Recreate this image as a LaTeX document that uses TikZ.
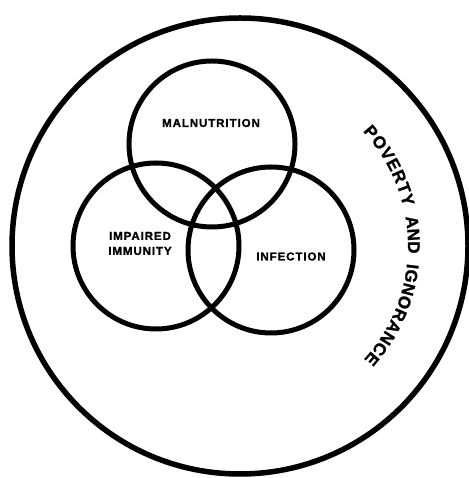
\documentclass[tikz,border=0pt]{standalone}
\usepackage{fontspec}
\setmainfont{Liberation Sans}[LetterSpace=8,BoldFeatures={FakeBold=1.2}]
\usepackage{tikz}
\usetikzlibrary{decorations.text}

\begin{document}
\begin{tikzpicture}[x=1pt,y=1pt,line width=5pt]
  \tikzset{cause/.style={font=\bfseries\fontsize{11.5}{15}\selectfont,align=center}}
  \useasboundingbox (0,0) rectangle (468,478);
  % outer ring
  \draw[line width=5.5pt] (240,232) circle (228pt);
  % the three overlapping causes
  \foreach \x/\y in {212/334,156/232,271/228}{
    \draw (\x,\y) circle (83pt);
  }
  % labels
  \node[cause] (maln) at (211,355) {MALNUTRITION};
  \node[cause] (immun) at (140,234.5) {IMPAIRED\\IMMUNITY};
  \node[cause] (infect) at (291,221.5) {INFECTION};
  % text round the inside of the ring, one word at a time
  \foreach \word/\a/\b in {POVERTY/43/13.5,AND/10/-2.5,IGNORANCE/-6/-42.5}{
    \path[decorate,decoration={text along path,text align={fit to path},
      text={|\bfseries\fontsize{17}{17}\selectfont|\word}}]
      ([shift={(\a:168pt)}]240,232) arc (\a:\b:168pt);
  }
\end{tikzpicture}
\end{document}
